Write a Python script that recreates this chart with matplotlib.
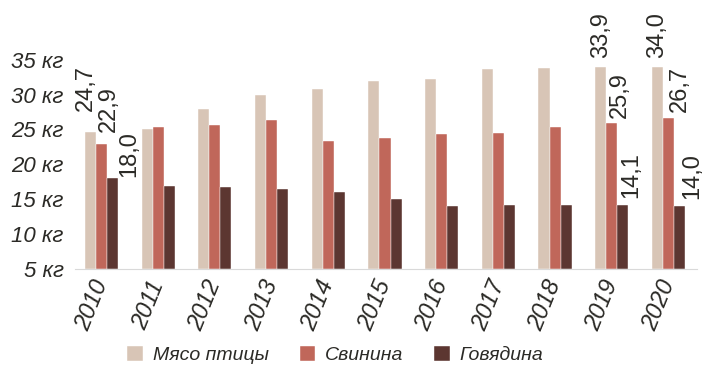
import matplotlib.pyplot as plt
import numpy as np

years = ['2010', '2011', '2012', '2013', '2014', '2015', '2016', '2017', '2018', '2019', '2020']
poultry = [24.7, 25.1, 28.0, 29.9, 30.8, 32.0, 32.3, 33.7, 33.8, 33.9, 34.0]
pork = [22.9, 25.4, 25.7, 26.3, 23.3, 23.8, 24.3, 24.5, 25.3, 25.9, 26.7]
beef = [18.0, 16.9, 16.8, 16.4, 16.0, 15.0, 14.0, 14.1, 14.1, 14.1, 14.0]
series_names = ['Мясо птицы', 'Свинина', 'Говядина']
yticks = [5, 10, 15, 20, 25, 30, 35]
labeled_years = ['2010', '2019', '2020']

colors = ['#D8C5B6', '#C0675A', '#5C3631']
text_color = '#2B2A26'
font = 'Liberation Sans'

fig = plt.figure(figsize=(7.06, 3.83), dpi=100)
ax = fig.add_axes([0.106, 0.298, 0.881, 0.637])

x = np.arange(len(years))
w = 0.195
all_series = [poultry, pork, beef]
bars = []
for i, (vals, name, c) in enumerate(zip(all_series, series_names, colors)):
    b = ax.bar(x + (i - 1) * w, np.array(vals) - 5, width=w, bottom=5,
               color=c, edgecolor='white', linewidth=0.3, label=name)
    bars.append(b)

# value labels (rotated), manual offsets in points
offsets = {
    '2010': [(-3, 15), (5, 9), (12, 1)],
    '2019': [(0, 7), (6, 4), (6, 5)],
    '2020': [(0, 6), (8, 4), (9, 5)],
}
for yr in labeled_years:
    j = years.index(yr)
    for i, vals in enumerate(all_series):
        dx, dy = offsets[yr][i]
        ax.annotate(f'{vals[j]:.1f}'.replace('.', ','),
                    (x[j] + (i - 1) * w, vals[j]),
                    xytext=(dx, dy), textcoords='offset points',
                    rotation=90, ha='center', va='bottom',
                    fontsize=17, color=text_color, family=font)

ax.set_xlim(-0.47, 10.5)
ax.set_ylim(5, 40)
ax.set_yticks(yticks)
ax.set_yticklabels([f'{t} кг' for t in yticks], fontsize=16, style='italic',
                   color=text_color, family=font)
ax.set_xticks(x)
ax.set_xticklabels(years, rotation=68, ha='right', va='center',
                   rotation_mode='anchor', fontsize=17, style='italic',
                   color=text_color, family=font)
ax.tick_params(axis='both', length=0)
ax.tick_params(axis='x', pad=9)
ax.tick_params(axis='y', pad=8)

for s in ['top', 'right', 'left']:
    ax.spines[s].set_visible(False)
ax.spines['bottom'].set_color('#D9D9D9')

fig.legend(handles=bars, labels=series_names, loc='center',
           bbox_to_anchor=(0.475, 0.073), ncol=3, frameon=False,
           handlelength=0.8, handleheight=0.8, handletextpad=0.5,
           columnspacing=1.6,
           prop={'family': font, 'style': 'italic', 'size': 14},
           labelcolor=text_color)

fig.savefig('out.png', dpi=100)
